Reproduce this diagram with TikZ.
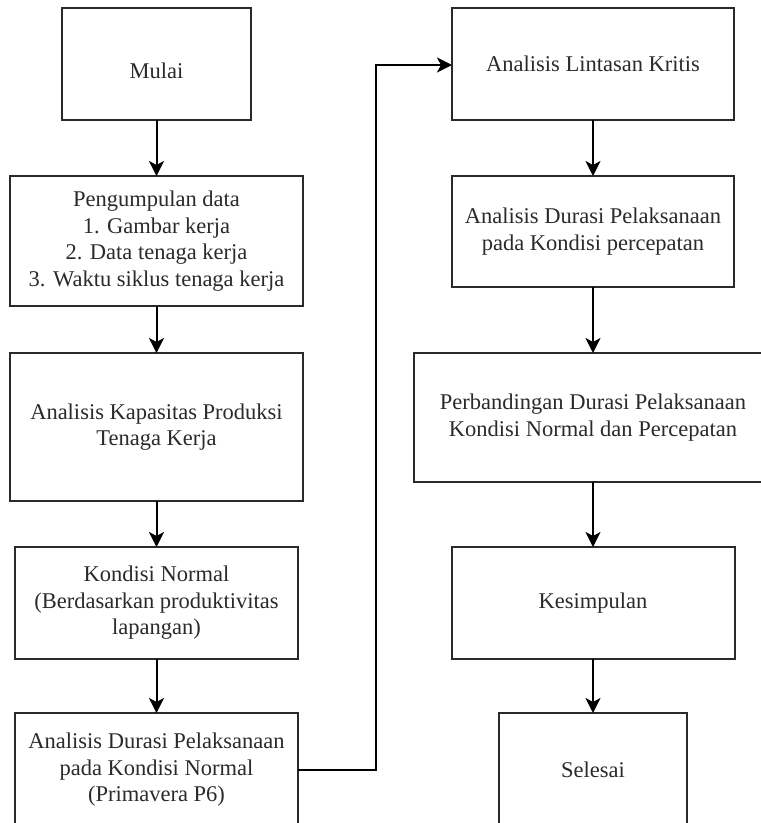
\documentclass[tikz,border=0pt]{standalone}
\usepackage{fontspec}
\setmainfont{Liberation Serif}
\usetikzlibrary{arrows.meta}
\definecolor{ink}{HTML}{2A2A2A}
\begin{document}
\begin{tikzpicture}[x=1pt,y=-1pt,
  box/.style={draw=ink, line width=2pt, inner sep=0pt, outer sep=0pt, align=center,
    text=ink, font=\fontsize{22.5}{26.5}\selectfont},
  conn/.style={draw=black, line width=2pt, -{Stealth[length=15pt,width=15pt,inset=4pt]}}]
\useasboundingbox (0,0) rectangle (761,823);
\node[box, minimum width=189pt, minimum height=112pt] (mulai) at (156.5,64) {\raisebox{-7pt}[\height][\depth]{Mulai}};
\node[box, minimum width=293pt, minimum height=130pt] (peng) at (156.5,241) {Pengumpulan data\\1. Gambar kerja\\2. Data tenaga kerja\\3. Waktu siklus tenaga kerja};
\node[box, minimum width=293pt, minimum height=148pt] (kap) at (156.5,427) {Analisis Kapasitas Produksi\\Tenaga Kerja};
\node[box, minimum width=283pt, minimum height=112pt] (kond) at (156.5,603) {Kondisi Normal\\(Berdasarkan produktivitas\\lapangan)};
\node[box, minimum width=283pt, minimum height=114pt] (dur) at (156.5,770) {Analisis Durasi Pelaksanaan\\pada Kondisi Normal\\(Primavera P6)};
\node[box, minimum width=282pt, minimum height=112pt] (lint) at (593,64) {Analisis Lintasan Kritis};
\node[box, minimum width=282pt, minimum height=111pt] (perc) at (593,231.5) {Analisis Durasi Pelaksanaan\\pada Kondisi percepatan};
\node[box, minimum width=358pt, minimum height=129pt] (perb) at (593,417.5) {Perbandingan Durasi Pelaksanaan\\Kondisi Normal dan Percepatan};
\node[box, minimum width=283pt, minimum height=112pt] (kes) at (593,603) {Kesimpulan};
\node[box, minimum width=188pt, minimum height=114pt] (sel) at (593,770) {Selesai};
\draw[conn] (mulai) -- (peng);
\draw[conn] (peng) -- (kap);
\draw[conn] (kap) -- (kond);
\draw[conn] (kond) -- (dur);
\coordinate (c1) at (376,770);
\coordinate (c2) at (376,65);
\draw[conn] (dur.east |- c1) -- (c1) -- (c2) -- (lint.west |- c2);
\draw[conn] (lint) -- (perc);
\draw[conn] (perc) -- (perb);
\draw[conn] (perb) -- (kes);
\draw[conn] (kes) -- (sel);
\end{tikzpicture}
\end{document}
